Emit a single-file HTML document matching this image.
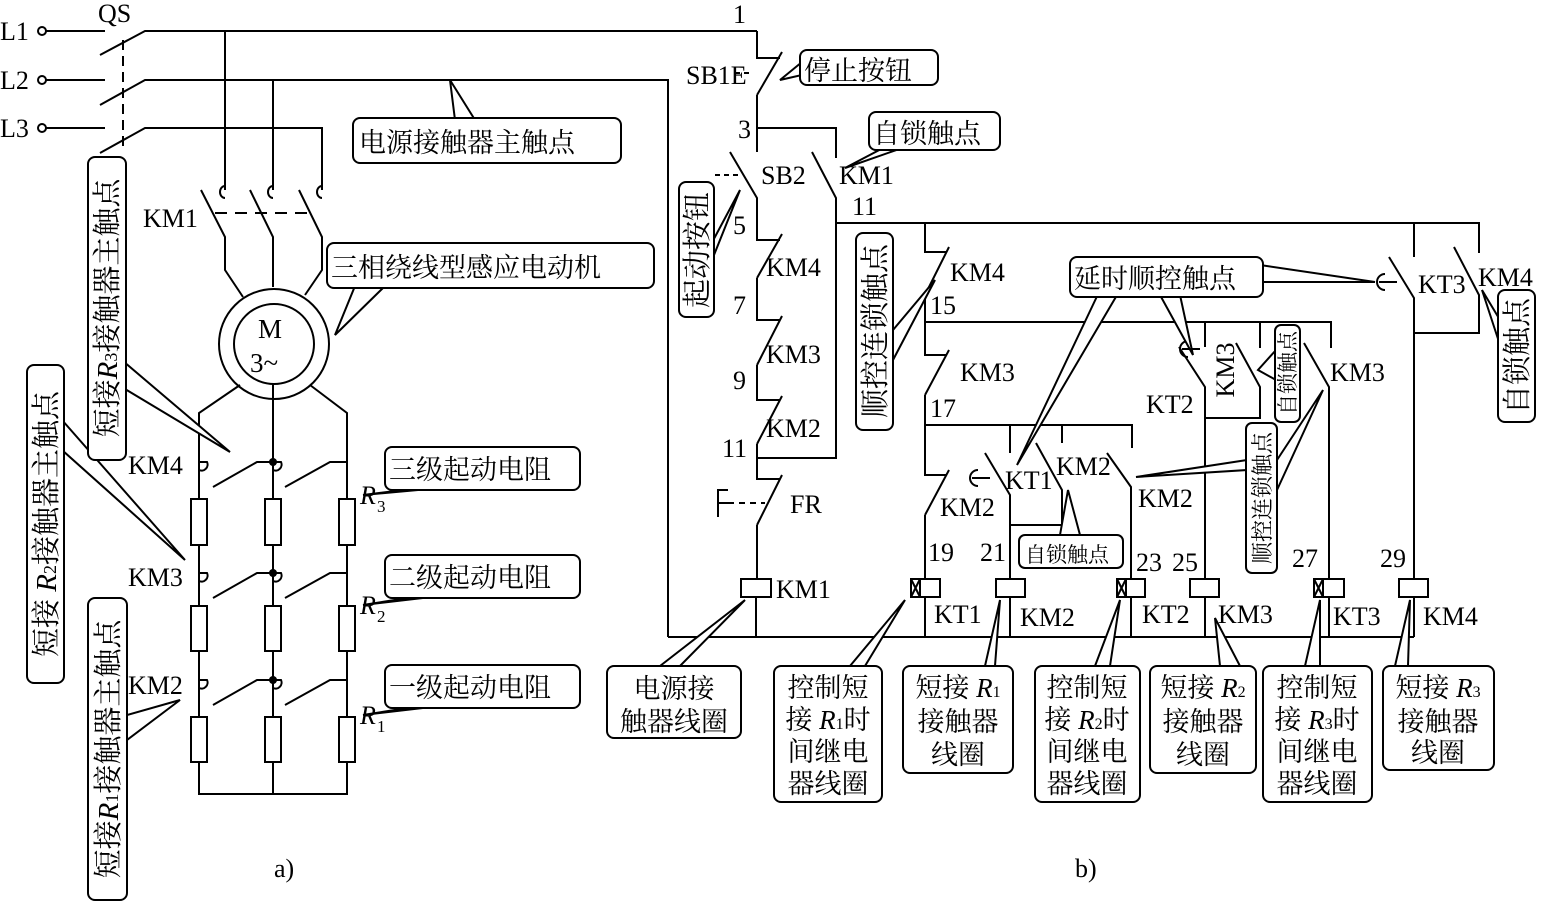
<!DOCTYPE html>
<html><head><meta charset="utf-8"><style>
html,body{margin:0;padding:0;background:#fff}
svg{display:block}
text{font-family:"Liberation Serif","Noto Serif CJK SC",serif;fill:#000}
.c{font-size:27px}
.l{font-size:26px}
.v{font-size:29px}
</style></head><body>
<svg width="1541" height="906" viewBox="0 0 1541 906" xmlns="http://www.w3.org/2000/svg">
<g stroke="#000" stroke-width="2" fill="none">
<!-- ===== a) main circuit ===== -->
<circle cx="42" cy="31" r="4"/><circle cx="42" cy="80" r="4"/><circle cx="42" cy="128" r="4"/>
<path d="M46 31H105M100 55L145 31H757M46 80H105M100 105L145 80H668V637M46 128H105M100 153L145 128H322V190"/>
<path d="M123 40V150" stroke-dasharray="10,6"/>
<path d="M225 31V190M273 80V190M322 128V190"/>
<path d="M225 186a5 6 0 0 0 0 12M273 186a5 6 0 0 0 0 12M322 186a5 6 0 0 0 0 12"/>
<path d="M201 190L225 237V270L243 297M250 190L273 237V287M299 190L322 237V270L305 295"/>
<path d="M215 213H310" stroke-dasharray="12,8"/>
<circle cx="274" cy="344" r="55"/><circle cx="274" cy="344" r="40"/>
<path d="M240 385L199 413V794H347V413L310 385M273 384V794"/>
<path d="M199 462h8a6 6 0 0 1 -8 8M213 487L257 462H273M273 462h8a6 6 0 0 1 -8 8M285 487L330 462H347"/>
<path d="M199 573h8a6 6 0 0 1 -8 8M213 598L257 573H273M273 573h8a6 6 0 0 1 -8 8M285 598L330 573H347"/>
<path d="M199 680h8a6 6 0 0 1 -8 8M213 705L257 680H273M273 680h8a6 6 0 0 1 -8 8M285 705L330 680H347"/>
<g fill="#fff">
<rect x="191" y="499" width="16" height="46"/><rect x="265" y="499" width="16" height="46"/><rect x="339" y="499" width="16" height="46"/>
<rect x="191" y="606" width="16" height="45"/><rect x="265" y="606" width="16" height="45"/><rect x="339" y="606" width="16" height="45"/>
<rect x="191" y="717" width="16" height="45"/><rect x="265" y="717" width="16" height="45"/><rect x="339" y="717" width="16" height="45"/>
</g>
</g>
<g fill="#000"><circle cx="273" cy="462" r="4"/><circle cx="273" cy="573" r="4"/><circle cx="273" cy="680" r="4"/></g>

<!-- ===== b) control circuit ===== -->
<g stroke="#000" stroke-width="2" fill="none">
<path d="M757 31V58H780M757 95L782 52M757 95V152"/>
<path d="M735 73H752" stroke-dasharray="5,4"/>
<path d="M757 128H836V158M812 152L836 198V458H757"/>
<path d="M730 152L757 198V240H780M757 278L782 234M757 278V320H780M757 365L782 316M757 365V400H780M757 444L782 396M757 444V479H780M757 525L782 475M757 525V579"/>
<path d="M715 175H738" stroke-dasharray="5,4"/>
<path d="M728 503H765" stroke-dasharray="6,5"/>
<path d="M728 490H718V503H728M718 503V517"/>
<rect x="741" y="579" width="30" height="18" fill="#fff"/>
<path d="M756 597V637M668 637H1414"/>
<path d="M836 223H1479V253M1454 247L1479 295V333H1414"/>
<path d="M925 223V252H947M925 295L949 247M925 295V355H947M925 395L949 350M925 395V475H947M925 515L949 470M925 515V579"/>
<path d="M925 322H1331V348M925 425H1132V448"/>
<path d="M1010 425V453M985 453L1010 495V579M1062 425V443M1036 443L1062 490V525H1010"/>
<path d="M1107 453L1131 487V579"/>
<path d="M1205 322V347M1179 347L1205 387V579M1260 322V348M1236 343L1260 387V418H1205"/>
<path d="M1304 343L1329 387V579"/>
<path d="M1414 223V257M1389 257L1414 298V579"/>
<path d="M978 470a8 8 0 0 0 0 16M972 478H990M1188 341a8 8 0 0 0 0 16M1182 349H1200M1385 274a8 8 0 0 0 0 16M1379 282H1397"/>
<g fill="#fff">
<rect x="911" y="579" width="29" height="18"/><rect x="996" y="579" width="29" height="18"/>
<rect x="1117" y="579" width="28" height="18"/><rect x="1190" y="579" width="29" height="18"/>
<rect x="1314" y="579" width="30" height="18"/><rect x="1399" y="579" width="29" height="18"/>
</g>
<path d="M920 579V597M911 579L920 597M920 579L911 597M1126 579V597M1117 579L1126 597M1126 579L1117 597M1323 579V597M1314 579L1323 597M1323 579L1314 597"/>
<path d="M925 597V637M1010 597V637M1131 597V637M1205 597V637M1329 597V637M1414 597V637"/>
</g>

<!-- ===== callout pointers ===== -->
<g stroke="#000" stroke-width="2" fill="#fff">
<polygon points="455,120 450,80 475,120"/>
<polygon points="355,286 335,335 385,286"/>
<polygon points="110,350 230,452 110,380"/>
<polygon points="62,420 185,560 62,450"/>
<polygon points="127,715 180,700 127,740"/>
<polygon points="420,488 363,495 440,488"/>
<polygon points="420,596 363,605 440,596"/>
<polygon points="420,706 363,715 440,706"/>
<polygon points="802,62 780,80 802,75"/>
<polygon points="885,147 845,168 905,147"/>
<polygon points="700,265 740,190 700,290"/>
<polygon points="893,330 935,280 893,360"/>
<polygon points="1100,290 1017,465 1120,290"/>
<polygon points="1160,295 1193,355 1180,295"/>
<polygon points="1260,265 1375,282 1260,282"/>
<polygon points="1500,320 1482,290 1500,345"/>
<polygon points="1276,350 1258,370 1276,380"/>
<polygon points="1247,460 1136,477 1247,470"/>
<polygon points="1277,460 1323,390 1277,490"/>
<polygon points="1060,535 1068,490 1080,535"/>
<polygon points="660,666 745,600 680,666"/>
<polygon points="850,666 905,600 865,666"/>
<polygon points="985,666 1000,600 995,666"/>
<polygon points="1095,666 1120,600 1110,666"/>
<polygon points="1215,618 1220,666 1240,666"/>
<polygon points="1305,666 1320,600 1320,666"/>
<polygon points="1395,666 1410,600 1408,666"/>
</g>
<g stroke="#000" stroke-width="2" fill="#fff">
<rect x="353" y="118" width="268" height="45" rx="7"/>
<rect x="327" y="243" width="327" height="45" rx="7"/>
<rect x="88" y="157" width="38" height="303" rx="7"/>
<rect x="27" y="365" width="37" height="318" rx="7"/>
<rect x="88" y="598" width="39" height="302" rx="7"/>
<rect x="385" y="447" width="195" height="43" rx="7"/>
<rect x="385" y="555" width="195" height="43" rx="7"/>
<rect x="385" y="665" width="195" height="43" rx="7"/>
<rect x="800" y="50" width="138" height="35" rx="7"/>
<rect x="869" y="112" width="131" height="38" rx="7"/>
<rect x="679" y="182" width="35" height="135" rx="7"/>
<rect x="856" y="233" width="37" height="197" rx="7"/>
<rect x="1070" y="257" width="193" height="40" rx="7"/>
<rect x="1498" y="290" width="37" height="132" rx="7"/>
<rect x="1275" y="325" width="25" height="97" rx="6"/>
<rect x="1246" y="423" width="31" height="150" rx="6"/>
<rect x="1019" y="535" width="104" height="33" rx="6"/>
<rect x="607" y="666" width="134" height="72" rx="7"/>
<rect x="774" y="666" width="108" height="136" rx="7"/>
<rect x="903" y="666" width="110" height="107" rx="7"/>
<rect x="1035" y="666" width="105" height="136" rx="7"/>
<rect x="1150" y="666" width="106" height="107" rx="7"/>
<rect x="1263" y="666" width="109" height="136" rx="7"/>
<rect x="1383" y="666" width="111" height="104" rx="7"/>
</g>

<!-- ===== text ===== -->
<g class="l">
<text x="0" y="40">L1</text><text x="0" y="89">L2</text><text x="0" y="137">L3</text>
<text x="98" y="22">QS</text>
<text x="143" y="227">KM1</text>
<text x="128" y="474">KM4</text><text x="128" y="586">KM3</text><text x="128" y="694">KM2</text>
<text x="258" y="338" font-size="27">M</text><text x="250" y="372" font-size="27">3~</text>
<text x="360" y="504" font-style="italic">R</text><text x="377" y="512" font-size="17">3</text>
<text x="360" y="614" font-style="italic">R</text><text x="377" y="622" font-size="17">2</text>
<text x="360" y="724" font-style="italic">R</text><text x="377" y="732" font-size="17">1</text>
<text x="274" y="877">a)</text>
<text x="733" y="23">1</text>
<text x="686" y="84">SB1E</text>
<text x="738" y="138">3</text>
<text x="761" y="184">SB2</text><text x="839" y="184">KM1</text>
<text x="852" y="215">11</text>
<text x="733" y="234">5</text><text x="766" y="276">KM4</text>
<text x="733" y="314">7</text><text x="766" y="363">KM3</text>
<text x="733" y="389">9</text><text x="766" y="437">KM2</text>
<text x="722" y="457">11</text>
<text x="790" y="513">FR</text>
<text x="776" y="598">KM1</text>
<text x="950" y="281">KM4</text><text x="930" y="314">15</text>
<text x="960" y="381">KM3</text><text x="930" y="417">17</text>
<text x="940" y="516">KM2</text>
<text x="1005" y="489">KT1</text><text x="1056" y="475">KM2</text>
<text x="1138" y="507">KM2</text>
<text x="1146" y="413">KT2</text>
<text x="1330" y="381">KM3</text>
<text x="1418" y="293">KT3</text><text x="1478" y="286">KM4</text>
<text x="928" y="561">19</text><text x="980" y="561">21</text>
<text x="1136" y="571">23</text><text x="1172" y="571">25</text>
<text x="1292" y="567">27</text><text x="1380" y="567">29</text>
<text x="934" y="623">KT1</text><text x="1020" y="626">KM2</text>
<text x="1142" y="623">KT2</text><text x="1218" y="623">KM3</text>
<text x="1333" y="625">KT3</text><text x="1423" y="625">KM4</text>
<text x="1075" y="877">b)</text>
</g>
<text x="1225" y="370" class="l" text-anchor="middle" transform="rotate(-90 1225 370)" dy="9">KM3</text>

<g class="c">
<text x="359" y="152">电源接触器主触点</text>
<text x="331" y="277">三相绕线型感应电动机</text>
<text x="389" y="479">三级起动电阻</text>
<text x="389" y="587">二级起动电阻</text>
<text x="389" y="697">一级起动电阻</text>
<text x="804" y="80">停止按钮</text>
<text x="873" y="143">自锁触点</text>
<text x="1074" y="288">延时顺控触点</text>
</g>
<text x="1025" y="562" font-size="21">自锁触点</text>

<!-- vertical (rotated) labels -->
<g class="v" text-anchor="middle">
<text x="107" y="318" transform="rotate(-90 107 308)">短接<tspan font-style="italic">R</tspan><tspan font-size="18">3</tspan>接触器主触点</text>
<text x="46" y="534" transform="rotate(-90 46 524)">短接 <tspan font-style="italic">R</tspan><tspan font-size="18">2</tspan>接触器主触点</text>
<text x="108" y="759" transform="rotate(-90 108 749)">短接<tspan font-style="italic">R</tspan><tspan font-size="18">1</tspan>接触器主触点</text>
<text x="697" y="260" transform="rotate(-90 697 250)">起动按钮</text>
<text x="875" y="341" transform="rotate(-90 875 331)">顺控连锁触点</text>
<text x="1517" y="366" transform="rotate(-90 1517 356)">自锁触点</text>
</g>
<g text-anchor="middle">
<text x="1288" y="380" font-size="21" transform="rotate(-90 1288 373)">自锁触点</text>
<text x="1262" y="506" font-size="22" transform="rotate(-90 1262 498)">顺控连锁触点</text>
</g>
<g class="c" text-anchor="middle">
<text x="674" y="698">电源接</text><text x="674" y="731">触器线圈</text>
<text x="828" y="697">控制短</text><text x="828" y="729">接 <tspan font-style="italic">R</tspan><tspan font-size="16">1</tspan>时</text><text x="828" y="761">间继电</text><text x="828" y="793">器线圈</text>
<text x="958" y="697">短接 <tspan font-style="italic">R</tspan><tspan font-size="16">1</tspan></text><text x="958" y="731">接触器</text><text x="958" y="764">线圈</text>
<text x="1087" y="697">控制短</text><text x="1087" y="729">接 <tspan font-style="italic">R</tspan><tspan font-size="16">2</tspan>时</text><text x="1087" y="761">间继电</text><text x="1087" y="793">器线圈</text>
<text x="1203" y="697">短接 <tspan font-style="italic">R</tspan><tspan font-size="16">2</tspan></text><text x="1203" y="731">接触器</text><text x="1203" y="764">线圈</text>
<text x="1317" y="697">控制短</text><text x="1317" y="729">接 <tspan font-style="italic">R</tspan><tspan font-size="16">3</tspan>时</text><text x="1317" y="761">间继电</text><text x="1317" y="793">器线圈</text>
<text x="1438" y="697">短接 <tspan font-style="italic">R</tspan><tspan font-size="16">3</tspan></text><text x="1438" y="731">接触器</text><text x="1438" y="762">线圈</text>
</g>
</svg>
</body></html>
